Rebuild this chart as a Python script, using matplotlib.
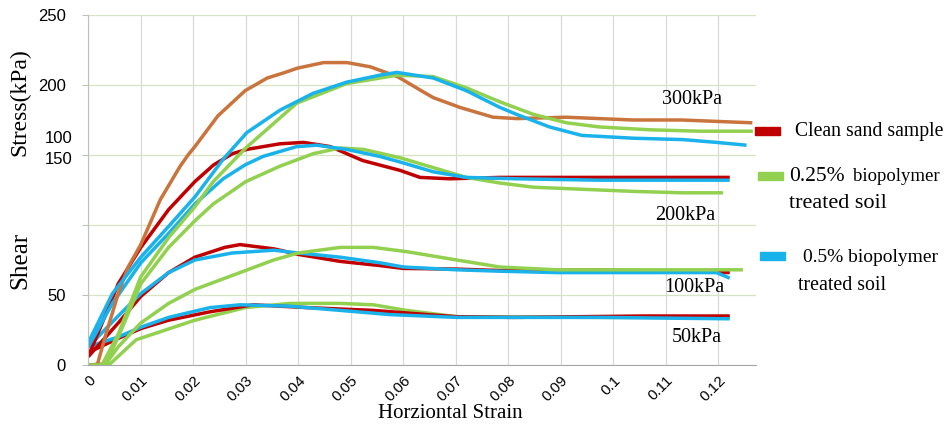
import matplotlib
matplotlib.use("Agg")
import matplotlib.pyplot as plt
from matplotlib.patches import Rectangle

# ---------------- data ----------------
x_ticks = [0, 0.01, 0.02, 0.03, 0.04, 0.05, 0.06, 0.07, 0.08, 0.09, 0.1, 0.11, 0.12]
x_tick_labels = ["0", "0.01", "0.02", "0.03", "0.04", "0.05", "0.06", "0.07", "0.08", "0.09", "0.1", "0.11", "0.12"]
y_ticks = [0, 50, 100, 150, 200, 250]
y_tick_labels = ["0", "50", "", "", "200", "250"]
y_extra_labels = ["100", "150"]   # the two labels stacked at the 150 gridline

# 300 kPa
clean300_x = [0.0, 0.0017, 0.0032, 0.0057, 0.0076, 0.010, 0.0137, 0.0175, 0.019, 0.0203, 0.0247, 0.0299,
              0.0341, 0.0375, 0.0398, 0.0448, 0.0493, 0.0537, 0.0589, 0.0625, 0.0657, 0.0708, 0.0771,
              0.0817, 0.091, 0.1038, 0.113, 0.1265]
clean300_y = [0, 0, 20, 51, 70, 86, 118, 142, 150, 156, 178, 196, 205, 209, 212, 216, 216, 213, 206, 198,
              191, 184, 177, 176, 177, 175, 175, 173]
g025_300_x = [0.0, 0.0026, 0.0057, 0.010, 0.0153, 0.0203, 0.0238, 0.030, 0.0397, 0.0492, 0.0588, 0.0657,
              0.072, 0.0784, 0.0848, 0.0911, 0.0974, 0.107, 0.1165, 0.1266]
g025_300_y = [0, 0, 22, 63, 91, 113, 131, 155, 187, 201, 207, 206, 198, 188, 179, 173, 170, 168, 167, 167]
b05_300_x = [0.0, 0.0046, 0.010, 0.0153, 0.0203, 0.0257, 0.0302, 0.0365, 0.0428, 0.0492, 0.0555, 0.0588,
             0.0657, 0.072, 0.0784, 0.0816, 0.0879, 0.094, 0.1038, 0.1133, 0.1197, 0.1254]
b05_300_y = [16, 51, 77, 99, 120, 147, 166, 182, 194, 202, 207, 209, 205, 196, 184, 179, 170, 164, 162,
             161, 159, 157]

# 200 kPa
clean200_x = [0.0, 0.0032, 0.0057, 0.010, 0.0153, 0.0203, 0.0239, 0.0275, 0.0302, 0.0365, 0.041, 0.0461,
              0.0523, 0.0594, 0.0632, 0.0689, 0.0784, 0.0911, 0.1102, 0.1222]
clean200_y = [6, 35, 58, 84, 111, 131, 143, 151, 154, 158, 159, 156, 146, 139, 134, 133, 134, 134, 134, 134]
g025_200_x = [0.0, 0.0032, 0.0057, 0.010, 0.0153, 0.0203, 0.0238, 0.030, 0.0365, 0.0429, 0.048, 0.0524,
              0.0594, 0.0657, 0.072, 0.0784, 0.0848, 0.0911, 0.1038, 0.1133, 0.1209]
g025_200_y = [0, 0, 20, 58, 84, 103, 115, 131, 142, 151, 155, 154, 148, 141, 134, 130, 127, 126, 124, 123, 123]
b05_200_x = [0.0, 0.0046, 0.010, 0.0153, 0.0203, 0.0257, 0.0299, 0.0333, 0.0397, 0.0435, 0.0492, 0.0555,
             0.0594, 0.0657, 0.072, 0.0816, 0.0974, 0.1102, 0.1222]
b05_200_y = [13, 44, 73, 94, 115, 133, 143, 149, 156, 157, 154, 149, 145, 138, 134, 133, 132, 132, 132]

# 100 kPa
clean100_x = [0.0, 0.0057, 0.010, 0.0153, 0.0203, 0.026, 0.0289, 0.0353, 0.040, 0.048, 0.0556, 0.060,
              0.0702, 0.0784, 0.0975, 0.1222]
clean100_y = [6, 30, 49, 66, 77, 84, 86, 83, 79, 74, 71, 69, 68.5, 67.5, 68, 66]
g025_100_x = [0.0, 0.0034, 0.0057, 0.010, 0.0153, 0.0203, 0.0289, 0.0353, 0.040, 0.048, 0.0543, 0.0606,
              0.0702, 0.0784, 0.0892, 0.1058, 0.1247]
g025_100_y = [0, 1, 13, 30, 44, 54, 66, 75, 80, 84, 84, 81, 75, 70, 68, 68, 68]
b05_100_x = [0.0, 0.0057, 0.010, 0.0153, 0.0203, 0.0274, 0.0353, 0.040, 0.048, 0.0556, 0.060, 0.0702,
             0.0784, 0.0892, 0.1058, 0.1197, 0.1222]
b05_100_y = [13, 35, 51, 66, 75, 80, 82, 80, 77, 73, 70, 68, 67, 66, 66, 66, 62]

# 50 kPa
clean50_x = [0.0, 0.0057, 0.010, 0.0153, 0.0232, 0.0314, 0.0417, 0.0543, 0.0646, 0.0702, 0.0811, 0.1058, 0.1222]
clean50_y = [9, 19, 26, 32, 38, 43, 41, 39, 36, 34.5, 34, 35, 35]
g025_50_x = [0.0, 0.0042, 0.0091, 0.0203, 0.0299, 0.0384, 0.048, 0.0543, 0.0606, 0.0702, 0.0975, 0.1222]
g025_50_y = [0, 1, 18, 32, 41, 44, 44, 43, 39, 34.5, 34, 34]
b05_50_x = [0.0, 0.0057, 0.010, 0.0153, 0.0232, 0.0289, 0.0384, 0.048, 0.0575, 0.0702, 0.0975, 0.1222]
b05_50_y = [13, 20, 27, 34, 41, 43, 42, 39, 36, 34, 34, 33]

pressure_labels = ["300kPa", "200kPa", "100kPa", "50kPa"]
legend_labels = ["Clean sand sample", "0.25%", "biopolymer", "treated soil", "0.5% biopolymer", "treated soil"]

# ---------------- styling ----------------
RED = "#C00000"
ORANGE = "#C8743C"
GREEN = "#92D050"
BLUE = "#1AB2EA"
SERIF = "Liberation Serif"
SANS = "Liberation Sans"

W, H = 945, 428
fig = plt.figure(figsize=(W / 100, H / 100), dpi=100)
ax = fig.add_axes([88.3 / W, 1 - 365 / H, (756 - 88.3) / W, 350 / H])

lw = 2.5
kw = dict(lw=lw, solid_joinstyle="round", solid_capstyle="butt")
ax.plot(g025_50_x, g025_50_y, color=GREEN, **kw)
ax.plot(clean50_x, clean50_y, color=RED, **kw)
ax.plot(b05_50_x, b05_50_y, color=BLUE, **kw)
ax.plot(clean100_x, clean100_y, color=RED, **kw)
ax.plot(b05_100_x, b05_100_y, color=BLUE, **kw)
ax.plot(g025_100_x, g025_100_y, color=GREEN, **kw)
ax.plot(clean200_x, clean200_y, color=RED, **kw)
ax.plot(g025_200_x, g025_200_y, color=GREEN, **kw)
ax.plot(b05_200_x, b05_200_y, color=BLUE, **kw)
ax.plot(clean300_x, clean300_y, color=ORANGE, **kw)
ax.plot(g025_300_x, g025_300_y, color=GREEN, **kw)
ax.plot(b05_300_x, b05_300_y, color=BLUE, **kw)

ax.set_xlim(0, 0.1272)
ax.set_ylim(0, 250)
ax.set_xticks(x_ticks)
ax.set_xticklabels(x_tick_labels, rotation=45, ha="right", va="top", rotation_mode="anchor",
                   fontsize=11, family=SANS)
ax.set_yticks(y_ticks)
ax.set_yticklabels(y_tick_labels, fontsize=12, family=SANS)
ax.tick_params(axis="x", length=0, pad=6)
ax.tick_params(axis="y", length=4, color="#BFBFBF", pad=12)
ytr = ax.get_yaxis_transform()
ax.text(-0.0244, 162, y_extra_labels[0], transform=ytr, ha="right", va="center", fontsize=12, family=SANS)
ax.text(-0.0244, 147, y_extra_labels[1], transform=ytr, ha="right", va="center", fontsize=12, family=SANS)
ax.grid(axis="x", color="#D9D9D9", lw=0.9)
ax.grid(axis="y", color="#D7E4C4", lw=0.9)
ax.set_axisbelow(True)
for s in ["top", "right"]:
    ax.spines[s].set_visible(False)
ax.spines["left"].set_color("#BFBFBF")
ax.spines["bottom"].set_color("#A6A6A6")

# pressure annotations
ann_pos = [(0.1093, 190), (0.1079, 107), (0.1098, 55), (0.1112, 20)]
for (xx, yy), t in zip(ann_pos, pressure_labels):
    ax.text(xx, yy, t, fontsize=14.5, family=SERIF, va="center", ha="left")

# axis titles
fig.text(450 / W, 1 - 414 / H, "Horziontal Strain", fontsize=15, family=SERIF, ha="center", va="center")
fig.text(20 / W, 1 - 102 / H, "Stress(kPa)", fontsize=17, family=SERIF, ha="center", va="center", rotation=90)
fig.text(20 / W, 1 - 260 / H, "Shear", fontsize=18, family=SERIF, ha="center", va="center", rotation=90)

# legend (manual)
def patch(x0, yc, color):
    fig.patches.append(Rectangle((x0 / W, 1 - (yc + 4) / H), 25 / W, 8 / H, transform=fig.transFigure,
                                 color=color, zorder=5))

patch(755, 131, RED)
fig.text(795 / W, 1 - 132 / H, legend_labels[0], fontsize=14.2, family=SERIF, va="center", ha="left")
patch(758, 176, GREEN)
fig.text(789 / W, 1 - 176 / H, legend_labels[1], fontsize=15.5, family=SERIF, va="center", ha="left")
fig.text(853 / W, 1 - 177 / H, legend_labels[2], fontsize=13.5, family=SERIF, va="center", ha="left")
fig.text(789 / W, 1 - 204 / H, legend_labels[3], fontsize=16, family=SERIF, va="center", ha="left")
patch(760, 256, BLUE)
fig.text(803 / W, 1 - 258 / H, legend_labels[4], fontsize=14, family=SERIF, va="center", ha="left")
fig.text(798 / W, 1 - 286 / H, legend_labels[5], fontsize=14.3, family=SERIF, va="center", ha="left")

fig.savefig("out.png", dpi=100)
